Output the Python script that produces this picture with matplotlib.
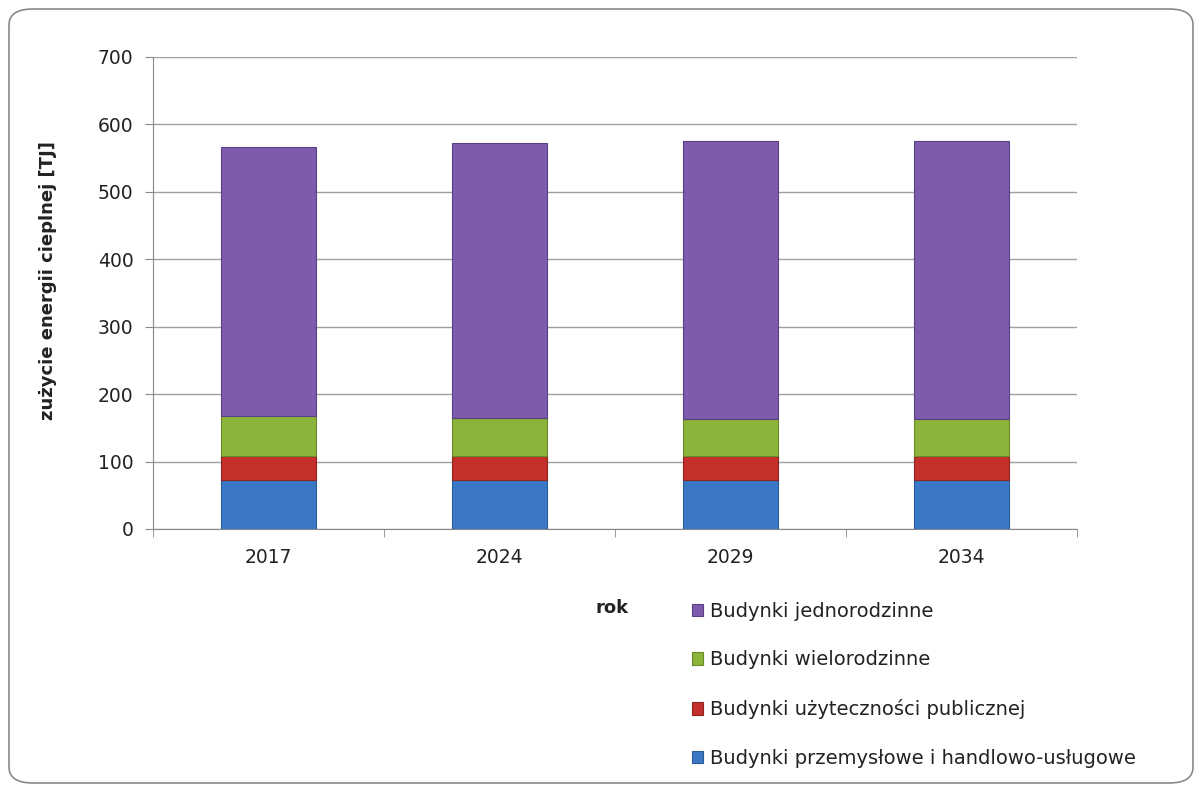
import matplotlib
matplotlib.use("Agg")
import matplotlib.pyplot as plt
from matplotlib.patches import FancyBboxPatch
import numpy as np

years = ["2017", "2024", "2029", "2034"]
przemyslowe = [73, 73, 72, 72]
publiczne = [36, 36, 36, 36]
wielorodzinne = [58, 56, 55, 55]
jednorodzinne = [399, 407, 412, 412]

series_names = ["Budynki przemysłowe i handlowo-usługowe",
                "Budynki użyteczności publicznej",
                "Budynki wielorodzinne",
                "Budynki jednorodzinne"]
colors = ["#3a78c6", "#c4302b", "#8cb43a", "#7d5bad"]
edges = ["#2a5a98", "#8f2320", "#6a8a2a", "#5b4182"]

plt.rcParams['font.family'] = ['DejaVu Sans']

W, H = 1202, 792
fig = plt.figure(figsize=(W/100, H/100), dpi=100)
ax = fig.add_axes([153/W, 1-529/H, (1077-153)/W, (529-57)/H])

x = np.arange(len(years))
bottom = np.zeros(len(years))
handles = []
for vals, name, c, e in zip([przemyslowe, publiczne, wielorodzinne, jednorodzinne],
                            series_names, colors, edges):
    b = ax.bar(x, vals, width=0.41, bottom=bottom, color=c, edgecolor=e,
               linewidth=0.8, label=name, zorder=3)
    handles.append(b)
    bottom += np.array(vals)

ax.set_ylim(0, 700)
ax.set_xlim(-0.5, len(years) - 0.5)
ax.set_yticks(range(0, 701, 100))
ax.yaxis.grid(True, color="#a0a0a0", linewidth=1.0, zorder=0)
ax.set_axisbelow(True)
ax.set_xticks(x)
ax.set_xticklabels(years)
ax.set_xticks(np.arange(-0.5, len(years), 1.0), minor=True)
ax.tick_params(axis='x', which='major', length=0, pad=14, labelsize=13.5, colors="#222222")
ax.tick_params(axis='x', which='minor', length=6, color="#888888", direction='out')
ax.tick_params(axis='y', length=6, color="#888888", labelsize=13.5, pad=8, labelcolor="#222222")
for s in ["top", "right"]:
    ax.spines[s].set_visible(False)
ax.spines["left"].set_color("#888888")
ax.spines["bottom"].set_color("#888888")

fig.text(48/W, 1-281/H, "zużycie energii cieplnej [TJ]", rotation=90, ha="center",
         va="center", fontsize=13, fontweight="bold", color="#222222")
fig.text(612/W, 1-608/H, "rok", ha="center", va="center", fontsize=13,
         fontweight="bold", color="#222222")

leg = fig.legend(handles[::-1], series_names[::-1], loc="upper left",
                 bbox_to_anchor=(682/W, 1-592/H), frameon=False, fontsize=14,
                 handlelength=0.6, handleheight=0.6, handletextpad=0.35,
                 labelspacing=1.53, borderpad=0)
for t in leg.get_texts():
    t.set_color("#222222")

border = FancyBboxPatch((9/W, 9/H), (W-18)/W, (H-18)/H,
                        boxstyle="round,pad=0,rounding_size=0.02",
                        transform=fig.transFigure, facecolor="none",
                        edgecolor="#8a8a8a", linewidth=1.2)
fig.patches.append(border)

fig.savefig("out.png", dpi=100, facecolor="white")
